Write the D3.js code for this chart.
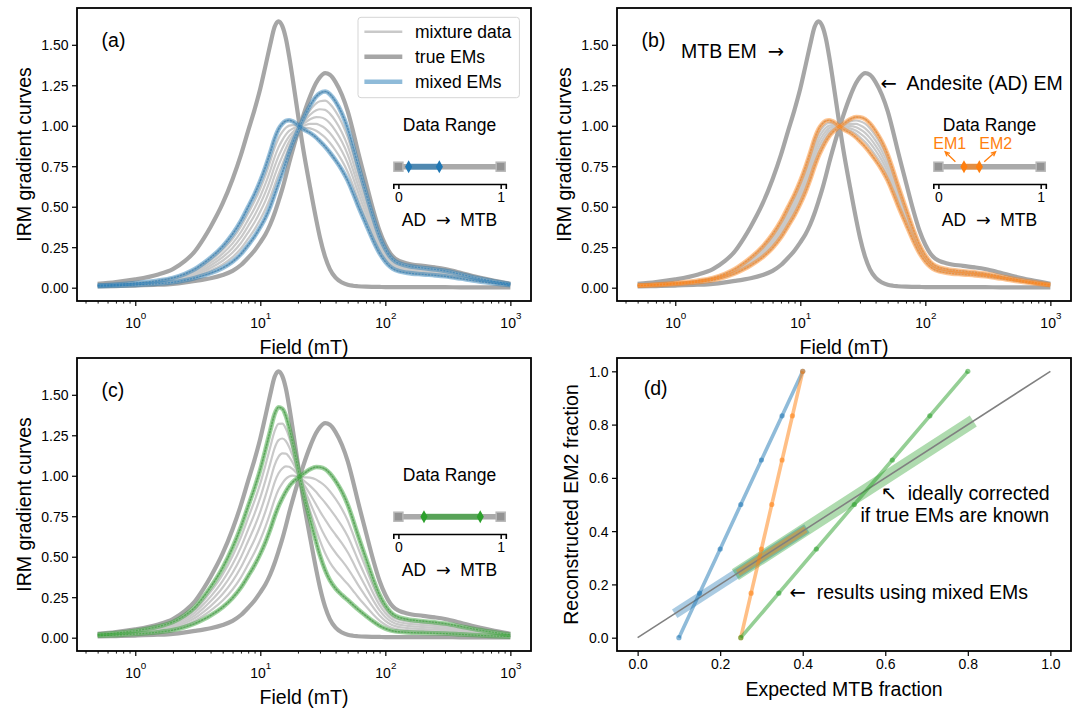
<!DOCTYPE html>
<html>
<head>
<meta charset="utf-8">
<script src="https://cdn.jsdelivr.net/npm/d3@7"></script>
<style>
	body { margin: 0; background: #fff; }
	svg { display: block; font-family: "Liberation Sans", Arial, sans-serif; }
	text { white-space: pre; }
	.arr { font-family: "DejaVu Sans", sans-serif; }
</style>
</head>
<body>
<svg id="fig" width="1082" height="708"></svg>
<script>
// Field steps (mT) and the two end-member IRM gradient curves
const fieldMT = [0.5, 0.7, 1, 1.5, 2, 2.5, 3, 3.5, 4, 5, 6, 7, 8, 9, 10, 11, 12, 13, 14, 15, 16, 17, 18,
	20, 22, 25, 28, 30, 33, 36, 40, 45, 50, 55, 60, 70, 80, 90, 100, 110, 120, 150, 200, 250, 300, 400, 500, 700, 1000];
const mtbEM = [0.023, 0.034, 0.051, 0.08, 0.115, 0.165, 0.225, 0.3, 0.375, 0.52, 0.67, 0.82, 0.97, 1.1, 1.23, 1.37, 1.5, 1.61, 1.645, 1.615, 1.54, 1.43, 1.31,
	1.07, 0.86, 0.62, 0.42, 0.31, 0.19, 0.115, 0.062, 0.032, 0.018, 0.012, 0.009, 0.006, 0.005, 0.0045, 0.004, 0.004, 0.004, 0.0035, 0.003, 0.003, 0.003, 0.0025, 0.0025, 0.002, 0.002];
const adEM = [0.008, 0.01, 0.013, 0.018, 0.024, 0.033, 0.042, 0.05, 0.058, 0.078, 0.104, 0.14, 0.185, 0.23, 0.28, 0.33, 0.39, 0.46, 0.535, 0.61, 0.69, 0.77, 0.84,
	0.96, 1.06, 1.18, 1.265, 1.3, 1.325, 1.315, 1.27, 1.19, 1.09, 0.97, 0.85, 0.65, 0.48, 0.35, 0.265, 0.21, 0.18, 0.15, 0.135, 0.125, 0.115, 0.092, 0.072, 0.047, 0.024];

// MTB fractions of the mixtures in each panel (first / last = mixed EMs)
const fracA = [0.1, 0.15, 0.2, 0.25, 0.3, 0.35, 0.4];
const fracB = [0.25, 0.275, 0.3, 0.325, 0.35, 0.375, 0.4];
const fracC = [0.25, 0.342, 0.433, 0.525, 0.617, 0.708, 0.8];
// reconstructed EM2 fraction for each mixture (panel d)
const reconEM2 = [0, 0.167, 0.333, 0.5, 0.667, 0.833, 1.0];

const irmYTicks = [0, 0.25, 0.5, 0.75, 1, 1.25, 1.5];
const irmXTicks = [1, 10, 100, 1000];
const fracTicks = [0, 0.2, 0.4, 0.6, 0.8, 1.0];
const legendLabels = ["mixture data", "true EMs", "mixed EMs"];

const BLUE = "#1f77b4", ORANGE = "#ff7f0e", GREEN = "#2ca02c";
const EM_GRAY = "#a6a6a6", MIX_GRAY = "#c9c9c9";
const PW = 454, PH = 293;
const svg = d3.select("#fig");

function styleAxis(ax, size) {
	ax.attr("font-family", null).attr("font-size", null);
	ax.select(".domain").remove();
	ax.selectAll(".tick line").attr("stroke", "#000").attr("stroke-width", 1.2);
	ax.selectAll(".tick text").attr("fill", "#000").style("font-size", size + "px");
}

function frame(g) {
	g.append("rect").attr("width", PW).attr("height", PH)
		.attr("fill", "none").attr("stroke", "#000").attr("stroke-width", 1.8);
}

function panelLabel(g, txt, x, y) {
	g.append("text").attr("x", x).attr("y", y).attr("dominant-baseline", "central")
		.style("font-size", "19.5px").text(txt);
}

// text made of plain pieces and arrow glyphs (arrows use DejaVu, as matplotlib falls back to it)
function richText(g, x, y, size, parts, anchor) {
	const t = g.append("text").attr("x", x).attr("y", y).attr("dominant-baseline", "central")
		.attr("text-anchor", anchor || "start").attr("xml:space", "preserve")
		.style("font-size", size + "px");
	parts.forEach(p => {
		const s = t.append("tspan").text(p);
		if (/[\u2190-\u21ff]/.test(p)) s.attr("class", "arr");
	});
	return t;
}

function mixCurve(f) {
	return fieldMT.map((F, i) => [F, (1 - f) * adEM[i] + f * mtbEM[i]]);
}

function drawInset(g, fr, color, withEM) {
	const ix = d3.scaleLinear().domain([-0.05, 1.05]).range([316.3, 428.8]);
	const ly = 158.7, ay = 176;
	g.append("text").attr("x", ix(0.5)).attr("y", 117).attr("text-anchor", "middle")
		.attr("dominant-baseline", "central").style("font-size", "17.5px").text("Data Range");
	g.append("line").attr("x1", ix(0)).attr("x2", ix(1)).attr("y1", ly).attr("y2", ly)
		.attr("stroke", "#aaaaaa").attr("stroke-width", 5.5);
	g.selectAll(null).data([0, 1]).enter().append("rect")
		.attr("x", d => ix(d) - 4.5).attr("y", ly - 4.5).attr("width", 9).attr("height", 9)
		.attr("fill", "#939393").attr("stroke", "#b8b8b8").attr("stroke-width", 1.5);
	const f0 = fr[0], f1 = fr[fr.length - 1];
	g.append("line").attr("x1", ix(f0)).attr("x2", ix(f1)).attr("y1", ly).attr("y2", ly)
		.attr("stroke", color).attr("stroke-opacity", 0.65).attr("stroke-width", 6);
	g.selectAll(null).data([f0, f1]).enter().append("path")
		.attr("transform", d => `translate(${ix(d)},${ly})`)
		.attr("d", "M0,-6.5L3.6,0L0,6.5L-3.6,0Z").attr("fill", color);

	const ax = g.append("g").attr("transform", `translate(0,${ay})`)
		.call(d3.axisBottom(ix).tickValues([0, 1]).tickSizeOuter(0).tickSize(5).tickPadding(3).tickFormat(d3.format("d")));
	ax.attr("font-family", null).attr("font-size", null);
	ax.select(".domain").attr("stroke", "#000").attr("stroke-width", 1.6);
	ax.selectAll(".tick line").attr("stroke", "#000").attr("stroke-width", 1.5);
	ax.selectAll(".tick text").attr("fill", "#000").style("font-size", "14px");

	richText(g, ix(0.5), 212, 17.5, ["AD  ", "\u2192", "  MTB"], "middle");

	if (withEM) {
		const em = [
			{ t: "EM1", tx: 0.11, x1: 0.166, x2: 0.066 },
			{ t: "EM2", tx: 0.56, x1: 0.448, x2: 0.559 },
		];
		em.forEach(e => {
			g.append("text").attr("x", ix(e.tx)).attr("y", 135.3).attr("text-anchor", "middle")
				.attr("dominant-baseline", "central").attr("fill", color)
				.style("font-size", "16px").text(e.t);
			const ax1 = ix(e.x1), ay1 = ly - 5, ax2 = ix(e.x2), ay2 = ly - 15;
			const ang = Math.atan2(ay2 - ay1, ax2 - ax1), hl = 5;
			g.append("path")
				.attr("d", `M${ax1},${ay1}L${ax2},${ay2}` +
					`M${ax2 - hl * Math.cos(ang - 0.45)},${ay2 - hl * Math.sin(ang - 0.45)}L${ax2},${ay2}` +
					`L${ax2 - hl * Math.cos(ang + 0.45)},${ay2 - hl * Math.sin(ang + 0.45)}`)
				.attr("fill", "none").attr("stroke", color).attr("stroke-width", 1.3);
		});
	}
}

function irmPanel(x0, y0, fracs, color, label, opts) {
	const g = svg.append("g").attr("transform", `translate(${x0},${y0})`);
	const lo = Math.log10(d3.min(fieldMT)), hi = Math.log10(d3.max(fieldMT)), pad = (hi - lo) * 0.05;
	const x = d3.scaleLog().domain([10 ** (lo - pad), 10 ** (hi + pad)]).range([0, PW]);
	const ymax = d3.max(mtbEM), ypad = ymax * 0.05;
	const y = d3.scaleLinear().domain([-ypad, ymax + ypad]).range([PH, 0]);

	const line = d3.line().x(d => x(d[0])).y(d => y(d[1])).curve(d3.curveMonotoneX);

	// true end members
	[mtbEM, adEM].forEach(em => {
		g.append("path").datum(fieldMT.map((F, i) => [F, em[i]])).attr("d", line)
			.attr("fill", "none").attr("stroke", EM_GRAY).attr("stroke-width", 4.2)
			.attr("stroke-linejoin", "round");
	});
	// mixture data
	fracs.forEach(f => {
		g.append("path").datum(mixCurve(f)).attr("d", line)
			.attr("fill", "none").attr("stroke", MIX_GRAY).attr("stroke-width", 2.2);
	});
	// mixed EMs
	[fracs[0], fracs[fracs.length - 1]].forEach(f => {
		const c = mixCurve(f);
		g.append("path").datum(c).attr("d", line).attr("fill", "none")
			.attr("stroke", color).attr("stroke-opacity", 0.45).attr("stroke-width", 4.6);
		g.append("path").datum(c).attr("d", line).attr("fill", "none")
			.attr("stroke", color).attr("stroke-opacity", 0.55).attr("stroke-width", 1.2)
			.attr("stroke-dasharray", "2,1.2");
	});

	// axes
	const ya = g.append("g").call(d3.axisLeft(y).tickValues(irmYTicks).tickSize(5).tickPadding(3.5).tickFormat(d3.format(".2f")));
	styleAxis(ya, 14);
	ya.selectAll(".tick text").attr("dy", null).attr("dominant-baseline", "central");

	const minor = [];
	for (let k = -1; k <= 3; k++) {
		for (let m = 2; m <= 9; m++) {
			const v = m * 10 ** k;
			if (v >= x.domain()[0] && v <= x.domain()[1]) minor.push(v);
		}
	}
	const xm = g.append("g").attr("transform", `translate(0,${PH})`)
		.call(d3.axisBottom(x).tickValues(minor).tickSize(2.6).tickFormat(""));
	styleAxis(xm, 14);
	xm.selectAll(".tick line").attr("stroke-width", 0.9);

	const xa = g.append("g").attr("transform", `translate(0,${PH})`)
		.call(d3.axisBottom(x).tickValues(irmXTicks).tickSize(5).tickFormat(""));
	styleAxis(xa, 14);
	xa.selectAll(".tick text").each(function (d) {
		const t = d3.select(this).attr("y", 27).attr("dy", null);
		t.append("tspan").text("10");
		t.append("tspan").attr("dy", -9).style("font-size", "9.8px").text(Math.round(Math.log10(d)));
	});

	frame(g);

	g.append("text").attr("x", PW / 2).attr("y", PH + 45.7).attr("text-anchor", "middle")
		.attr("dominant-baseline", "central").style("font-size", "19.5px").text("Field (mT)");
	g.append("text").attr("transform", `translate(-52.8,${PH / 2}) rotate(-90)`)
		.attr("text-anchor", "middle").attr("dominant-baseline", "central")
		.style("font-size", "19.5px").text("IRM gradient curves");
	panelLabel(g, label, 24.6, 32);

	drawInset(g, fracs, color, opts.em);

	if (opts.legend) {
		const lg = g.append("g");
		lg.append("rect").attr("x", 281).attr("y", 9.3).attr("width", 161.4).attr("height", 80.4)
			.attr("rx", 3).attr("fill", "#fff").attr("fill-opacity", 0.8)
			.attr("stroke", "#d5d5d5").attr("stroke-width", 1);
		const sw = [
			{ c: MIX_GRAY, w: 2.6, o: 1 },
			{ c: EM_GRAY, w: 4.6, o: 1 },
			{ c: BLUE, w: 4.6, o: 0.5 },
		];
		legendLabels.forEach((t, i) => {
			const yy = 23.7 + i * 25;
			lg.append("line").attr("x1", 287.4).attr("x2", 325.3).attr("y1", yy).attr("y2", yy)
				.attr("stroke", sw[i].c).attr("stroke-width", sw[i].w).attr("stroke-opacity", sw[i].o);
			lg.append("text").attr("x", 338).attr("y", yy).attr("dominant-baseline", "central")
				.style("font-size", "17.5px").text(t);
		});
	}

	if (opts.names) {
		richText(g, 64, 43, 19.5, ["MTB EM  ", "\u2192"]);
		richText(g, 263.5, 75.3, 19.5, ["\u2190", "  Andesite (AD) EM"]);
	}
}

function fracPanel(x0, y0) {
	const g = svg.append("g").attr("transform", `translate(${x0},${y0})`);
	const x = d3.scaleLinear().domain([-0.05, 1.05]).range([0, PW]);
	const y = d3.scaleLinear().domain([-0.05, 1.05]).range([PH, 0]);
	const line = d3.line().x(d => x(d[0])).y(d => y(d[1]));

	// ideal (true-EM) corrected results along the 1:1 line
	[[fracA, BLUE, 10, 0.38], [fracC, GREEN, 13, 0.38], [fracB, ORANGE, 7, 0.42]].forEach(([fr, c, w, o]) => {
		const a = fr[0], b = fr[fr.length - 1];
		g.append("path").datum([[a, a], [b, b]]).attr("d", line)
			.attr("stroke", c).attr("stroke-width", w).attr("stroke-opacity", o)
			.attr("stroke-linecap", "square").attr("fill", "none");
	});
	g.append("path").datum([[0, 0], [1, 1]]).attr("d", line)
		.attr("stroke", "#808080").attr("stroke-width", 1.6).attr("fill", "none");

	// results using mixed EMs
	[[fracA, BLUE], [fracB, ORANGE], [fracC, GREEN]].forEach(([fr, c]) => {
		const pts = fr.map((f, i) => [f, reconEM2[i]]);
		g.append("path").datum(pts).attr("d", line).attr("fill", "none")
			.attr("stroke", c).attr("stroke-opacity", 0.5).attr("stroke-width", 3.6);
		g.selectAll(null).data(pts).enter().append("circle")
			.attr("cx", d => x(d[0])).attr("cy", d => y(d[1])).attr("r", 2.6)
			.attr("fill", c).attr("fill-opacity", 0.55);
	});

	const xa = g.append("g").attr("transform", `translate(0,${PH})`)
		.call(d3.axisBottom(x).tickValues(fracTicks).tickSize(5).tickPadding(3.5).tickFormat(d3.format(".1f")));
	styleAxis(xa, 14);
	const ya = g.append("g").call(d3.axisLeft(y).tickValues(fracTicks).tickSize(5).tickPadding(3.5).tickFormat(d3.format(".1f")));
	styleAxis(ya, 14);
	ya.selectAll(".tick text").attr("dy", null).attr("dominant-baseline", "central");

	frame(g);

	g.append("text").attr("x", PW / 2).attr("y", PH + 37.8).attr("text-anchor", "middle")
		.attr("dominant-baseline", "central").style("font-size", "19.5px").text("Expected MTB fraction");
	g.append("text").attr("transform", `translate(-46,${PH / 2}) rotate(-90)`)
		.attr("text-anchor", "middle").attr("dominant-baseline", "central")
		.style("font-size", "19.5px").text("Reconstructed EM2 fraction");
	panelLabel(g, "(d)", 26.7, 30);

	richText(g, 263.5, 135.3, 19.5, ["\u2196", "  ideally corrected"]);
	g.append("text").attr("x", 243.5).attr("y", 157).attr("dominant-baseline", "central")
		.style("font-size", "19.5px").text("if true EMs are known");
	richText(g, 172.6, 233.7, 19.5, ["\u2190", "  results using mixed EMs"]);
}

irmPanel(77, 8, fracA, BLUE, "(a)", { legend: true });
irmPanel(617, 8, fracB, ORANGE, "(b)", { em: true, names: true });
irmPanel(77, 358, fracC, GREEN, "(c)", {});
fracPanel(617, 358);
</script>
</body>
</html>
